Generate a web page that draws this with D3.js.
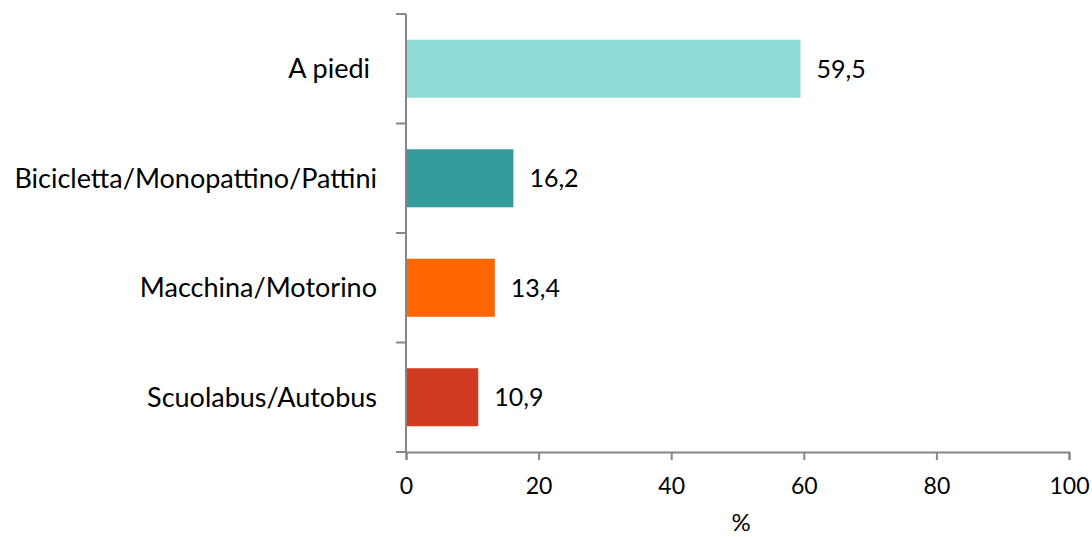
<!DOCTYPE html>
<html>
<head>
<meta charset="utf-8">
<script src="https://cdn.jsdelivr.net/npm/d3@7"></script>
<style>
    body { margin: 0; background: #fff; }
    svg text { font-family: Lato, "Open Sans", sans-serif; fill: #000; }
</style>
</head>
<body>
<svg id="chart" width="1092" height="537"></svg>
<script>
// data
var categories = ['A piedi ', 'Bicicletta/Monopattino/Pattini', 'Macchina/Motorino', 'Scuolabus/Autobus'];
var values = [59.5, 16.2, 13.4, 10.9];
var colors = ['#8fdbd8', '#339b99', '#ff6600', '#d13b1f'];
var xTicks = [0, 20, 40, 60, 80, 100];
var xTitle = '%';

var margin = {top: 14, right: 23, bottom: 85, left: 406};
var width = 1092, height = 537;

var svg = d3.select('#chart');

var x = d3.scaleLinear()
    .domain([0, 100])
    .range([margin.left, width - margin.right]);

var y = d3.scaleBand()
    .domain(categories)
    .range([margin.top, height - margin.bottom])
    .paddingInner(0.47)
    .paddingOuter(0.235);

var axisColor = '#868686';
var fmt = function(v) { return String(v).replace('.', ','); };

// bars
svg.append('g').selectAll('rect')
    .data(values)
    .enter()
    .append('rect')
    .attr('x', x(0))
    .attr('y', function(d, i) { return y(categories[i]); })
    .attr('width', function(d) { return x(d) - x(0); })
    .attr('height', y.bandwidth())
    .attr('fill', function(d, i) { return colors[i]; });

// value labels
svg.append('g').selectAll('text')
    .data(values)
    .enter()
    .append('text')
    .attr('x', function(d) { return x(d) + 16; })
    .attr('y', function(d, i) { return y(categories[i]) + y.bandwidth() / 2; })
    .attr('dy', '0.35em')
    .style('font-size', '25px')
    .text(fmt);

// y axis: line + ticks at band boundaries
var gY = svg.append('g');
var yTop = margin.top, yBot = height - margin.bottom;
gY.append('line')
    .attr('x1', x(0)).attr('x2', x(0))
    .attr('y1', yTop).attr('y2', yBot)
    .attr('stroke', axisColor).attr('stroke-width', 2);

var step = (yBot - yTop) / categories.length;
gY.selectAll('line.tick')
    .data(d3.range(categories.length + 1))
    .enter()
    .append('line')
    .attr('class', 'tick')
    .attr('x1', x(0) - 10).attr('x2', x(0))
    .attr('y1', function(i) { return yTop + i * step; })
    .attr('y2', function(i) { return yTop + i * step; })
    .attr('stroke', axisColor).attr('stroke-width', 2);

gY.selectAll('text')
    .data(categories)
    .enter()
    .append('text')
    .attr('x', x(0) - 29)
    .attr('y', function(d) { return y(d) + y.bandwidth() / 2; })
    .attr('dy', '0.35em')
    .attr('text-anchor', 'end')
    .style('font-size', '27px')
    .style('white-space', 'pre')
    .text(function(d) { return d; });

// x axis
var xAxis = d3.axisBottom(x)
    .tickValues(xTicks)
    .tickSize(8)
    .tickPadding(18)
    .tickFormat(d3.format('d'));

var gX = svg.append('g')
    .attr('transform', 'translate(0,' + yBot + ')')
    .call(xAxis);

gX.select('.domain').attr('stroke', axisColor).attr('stroke-width', 2);
gX.selectAll('.tick line').attr('stroke', axisColor).attr('stroke-width', 2);
gX.selectAll('.tick text')
    .style('font-size', '23px')
    .style('font-family', 'Lato, "Open Sans", sans-serif')
    .attr('fill', '#000');

svg.append('text')
    .attr('x', 741)
    .attr('y', 531)
    .attr('text-anchor', 'middle')
    .style('font-size', '24px')
    .text(xTitle);
</script>
</body>
</html>
